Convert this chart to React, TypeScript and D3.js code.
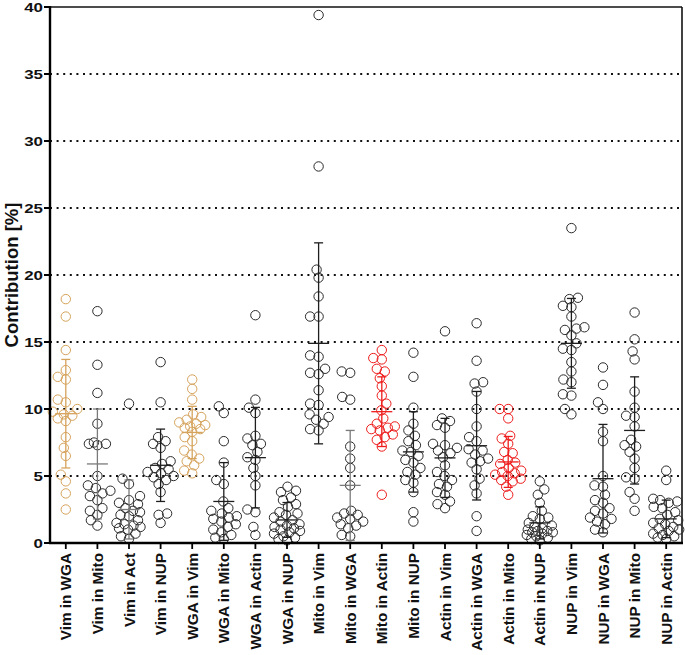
import React from "react";
import * as d3 from "d3";

const categories = [
  "Vim in WGA", "Vim in Mito", "Vim in Act", "Vim in NUP", "WGA in Vim",
  "WGA in Mito", "WGA in Actin", "WGA in NUP", "Mito in Vim", "Mito in WGA",
  "Mito in Actin", "Mito in NUP", "Actin in Vim", "Actin in WGA", "Actin in Mito",
  "Actin in NUP", "NUP in Vim", "NUP in WGA", "NUP in Mito", "NUP in Actin",
];

const vimInWGA = [18.2, 16.9, 14.4, 12.9, 12.4, 12.2, 10.7, 10.5, 10.0, 9.8, 9.6, 9.5, 9.3, 9.1, 7.9, 7.1, 6.5, 5.1, 4.6, 3.7, 2.5];
const vimInMito = [17.3, 13.3, 11.2, 8.9, 7.5, 7.4, 7.4, 7.3, 5.0, 4.3, 4.1, 3.9, 3.7, 3.5, 3.2, 2.6, 2.4, 2.1, 1.7, 1.3];
const vimInAct = [10.4, 4.8, 4.4, 3.5, 3.2, 3.0, 2.9, 2.6, 2.4, 2.3, 2.1, 2.0, 1.7, 1.5, 1.4, 1.3, 1.2, 1.1, 1.0, 0.7, 0.5, 0.3];
const vimInNUP = [13.5, 10.5, 7.9, 7.6, 7.4, 7.1, 6.1, 5.9, 5.6, 5.5, 5.3, 5.2, 5.0, 4.9, 4.7, 4.4, 3.8, 2.2, 2.1, 1.5];
const wgaInVim = [12.2, 11.5, 10.7, 9.6, 9.4, 9.2, 9.0, 8.9, 8.8, 8.7, 8.6, 8.5, 8.3, 7.9, 7.6, 6.9, 6.6, 6.3, 6.1, 5.8, 5.4, 5.2];
const wgaInMito = [10.2, 9.7, 7.6, 6.0, 4.7, 4.4, 3.1, 2.6, 2.4, 2.2, 2.0, 1.9, 1.8, 1.6, 1.4, 1.2, 1.0, 0.8, 0.6, 0.4, 0.3];
const wgaInActin = [17.0, 10.7, 10.1, 9.7, 8.0, 7.8, 7.4, 7.3, 6.8, 6.4, 6.2, 5.6, 5.0, 4.3, 2.5, 2.3, 1.2, 0.6];
const wgaInNUP = [4.2, 3.9, 3.8, 3.4, 3.2, 2.9, 2.7, 2.3, 2.2, 2.1, 1.9, 1.7, 1.6, 1.4, 1.3, 1.2, 1.1, 1.0, 0.9, 0.8, 0.7, 0.5, 0.4, 0.3, 0.2];
const mitoInVim = [39.4, 28.1, 20.4, 19.8, 18.4, 16.9, 16.9, 14.0, 13.9, 13.0, 12.7, 12.6, 11.4, 10.4, 10.3, 9.6, 9.4, 9.2, 8.9, 8.5, 8.4];
const mitoInWGA = [12.8, 12.7, 10.9, 10.7, 7.2, 6.3, 5.6, 4.3, 2.4, 2.2, 2.1, 1.9, 1.8, 1.6, 1.4, 1.3, 1.1, 0.6, 0.5];
const mitoInActin = [14.4, 13.8, 13.7, 13.0, 12.8, 12.3, 11.7, 11.0, 10.4, 9.9, 9.3, 8.9, 8.7, 8.6, 8.5, 8.4, 8.1, 7.9, 7.7, 7.2, 3.6];
const mitoInNUP = [14.2, 12.4, 10.1, 8.9, 8.4, 8.0, 7.6, 7.3, 6.9, 6.8, 6.5, 6.2, 6.0, 5.6, 5.3, 5.1, 4.7, 4.5, 3.8, 2.3, 1.6];
const actinInVim = [15.8, 9.3, 9.1, 8.8, 8.6, 7.4, 7.3, 7.1, 6.9, 6.7, 6.4, 5.8, 5.3, 5.0, 4.7, 4.4, 4.2, 3.8, 3.6, 3.1, 2.9, 2.6];
const actinInWGA = [16.4, 13.6, 12.0, 11.9, 11.3, 10.0, 8.7, 7.9, 7.6, 7.0, 6.9, 6.6, 6.3, 6.1, 6.0, 5.5, 4.8, 4.3, 3.7, 2.0, 0.9];
const actinInMito = [10.0, 10.0, 9.3, 8.0, 7.8, 7.4, 6.8, 6.7, 6.2, 6.0, 5.9, 5.6, 5.4, 5.3, 5.2, 5.1, 5.0, 4.8, 4.7, 4.6, 4.2, 3.6];
const actinInNUP = [4.6, 4.0, 3.6, 3.0, 2.4, 2.0, 1.9, 1.8, 1.5, 1.3, 1.2, 1.1, 1.0, 0.9, 0.9, 0.8, 0.8, 0.7, 0.6, 0.5, 0.4, 0.3, 0.2];
const nupInVim = [23.5, 18.3, 18.2, 17.7, 17.6, 16.9, 16.1, 16.0, 15.9, 15.5, 14.9, 14.5, 14.4, 13.5, 12.8, 12.2, 12.0, 11.1, 11.0, 10.0, 9.6];
const nupInWGA = [13.1, 11.8, 10.5, 10.0, 8.3, 7.6, 5.0, 4.3, 4.2, 3.6, 3.2, 3.0, 2.6, 2.4, 2.2, 1.9, 1.8, 1.6, 1.4, 1.0, 0.8];
const nupInMito = [17.2, 15.2, 14.3, 13.7, 11.3, 10.1, 9.5, 9.4, 8.7, 7.7, 7.3, 7.2, 6.8, 6.3, 5.6, 4.9, 4.8, 3.8, 3.3, 2.4];
const nupInActin = [5.4, 4.7, 3.3, 3.2, 3.1, 3.0, 2.7, 2.6, 2.3, 2.1, 1.8, 1.7, 1.5, 1.4, 1.2, 1.1, 1.0, 0.9, 0.7, 0.6, 0.5, 0.4, 0.3];

const groupValues = [
  vimInWGA, vimInMito, vimInAct, vimInNUP, wgaInVim, wgaInMito, wgaInActin, wgaInNUP,
  mitoInVim, mitoInWGA, mitoInActin, mitoInNUP, actinInVim, actinInWGA, actinInMito,
  actinInNUP, nupInVim, nupInWGA, nupInMito, nupInActin,
];

const means = [9.65, 5.9, 2.5, 5.8, 8.25, 3.1, 6.37, 1.72, 14.9, 4.3, 9.8, 6.8, 6.35, 7.26, 6.05, 1.5, 14.9, 4.8, 8.4, 1.8];
const sds = [4.05, 4.1, 2.2, 2.7, 1.95, 2.9, 3.75, 1.3, 7.5, 4.1, 2.6, 3.0, 2.95, 4.05, 1.9, 1.2, 3.35, 4.05, 4.0, 1.4];

const yTicks = [0, 5, 10, 15, 20, 25, 30, 35, 40];
const gridTicks = [5, 10, 15, 20, 25, 30, 35];

const ORANGE = "#d6a35c";
const RED = "#ee1c1c";
const BLACK = "#2b2b2b";
const pointColors = categories.map((c) =>
  c === "Vim in WGA" || c === "WGA in Vim" ? ORANGE : c === "Mito in Actin" || c === "Actin in Mito" ? RED : BLACK
);
const barColors = categories.map((c, i) =>
  pointColors[i] !== BLACK ? pointColors[i] : c === "Vim in Mito" || c === "Vim in Act" || c === "Mito in WGA" ? "#7a7a7a" : "#1e1e1e"
);

const W = 685;
const H = 655;
const left = 50;
const right = 682;
const top = 7;
const bottom = 543;
const R = 4.7;
const FONT = "'Liberation Sans', Arial, Helvetica, sans-serif";

// deterministic beeswarm with limited width (Prism-like scatter)
function beeswarm(ys: number[], minDist: number, maxOff: number): number[] {
  const order = d3.range(ys.length).sort((a, b) => ys[b] - ys[a]);
  const xs = new Array(ys.length).fill(0);
  const placed: number[] = [];
  const cands = d3.range(-maxOff, maxOff + 0.01, 0.5).sort((a, b) => Math.abs(a) - Math.abs(b) || a - b);
  for (const i of order) {
    let chosen: number | null = null;
    let bestScore = -1;
    let bestC = 0;
    for (const c of cands) {
      let md = Infinity;
      for (const j of placed) {
        const d = Math.hypot(c - xs[j], ys[i] - ys[j]);
        if (d < md) md = d;
      }
      if (md >= minDist) {
        chosen = c;
        break;
      }
      if (md > bestScore + 0.3) {
        bestScore = md;
        bestC = c;
      }
    }
    xs[i] = chosen === null ? bestC : chosen;
    placed.push(i);
  }
  return xs;
}

export default function App() {
  const x = d3.scaleBand<string>().domain(categories).range([left, right]).padding(0);
  const y = d3.scaleLinear().domain([0, 40]).range([bottom, top]);
  const bw = x.bandwidth();

  return (
    <svg width={W} height={H} style={{ position: "absolute", left: 0, top: 0, background: "#fff" }} fontFamily={FONT}>
      {gridTicks.map((t) => (
        <line key={"g" + t} x1={left} x2={right} y1={y(t)} y2={y(t)} stroke="#111" strokeWidth={2} strokeDasharray="2 4.6" />
      ))}
      <line x1={left} x2={right} y1={top} y2={top} stroke="#111" strokeWidth={1.6} />
      <line x1={right} x2={right} y1={top} y2={bottom} stroke="#111" strokeWidth={1.6} />

      {groupValues.map((vals, gi) => {
        const cx = (x(categories[gi]) as number) + bw / 2;
        const ys = vals.map((v) => y(v));
        const offs = beeswarm(ys, R * 1.75, 13);
        return (
          <g key={"p" + gi}>
            {vals.map((v, k) => (
              <circle key={k} cx={cx + offs[k]} cy={ys[k]} r={R} fill="none" stroke={pointColors[gi]} strokeWidth={1} />
            ))}
          </g>
        );
      })}

      {categories.map((c, gi) => {
        const cx = (x(c) as number) + bw / 2;
        const m = means[gi];
        const s = sds[gi];
        const hi = y(m + s);
        const lo = y(Math.max(0, m - s));
        const col = barColors[gi];
        return (
          <g key={"e" + gi} stroke={col} strokeWidth={1.3}>
            <line x1={cx} x2={cx} y1={hi} y2={lo} />
            <line x1={cx - 10.5} x2={cx + 10.5} y1={y(m)} y2={y(m)} />
            <line x1={cx - 4.5} x2={cx + 4.5} y1={hi} y2={hi} />
            {m - s > 0 && <line x1={cx - 4.5} x2={cx + 4.5} y1={lo} y2={lo} />}
          </g>
        );
      })}

      <line x1={left} x2={left} y1={top - 1} y2={bottom + 1} stroke="#000" strokeWidth={2.4} />
      <line x1={left - 1} x2={right + 1} y1={bottom} y2={bottom} stroke="#000" strokeWidth={2.4} />
      {yTicks.map((t) => (
        <g key={"yt" + t}>
          <line x1={left - 6} x2={left} y1={y(t)} y2={y(t)} stroke="#000" strokeWidth={2} />
          <text
            transform={`translate(${left - 7},${y(t)}) scale(1.25,1)`}
            dy="0.36em"
            textAnchor="end"
            fontSize={13.5}
            fontWeight="bold"
            fill="#111"
          >
            {t}
          </text>
        </g>
      ))}
      {categories.map((c) => {
        const cx = (x(c) as number) + bw / 2;
        return (
          <g key={"xt" + c}>
            <line x1={cx} x2={cx} y1={bottom} y2={bottom + 6} stroke="#000" strokeWidth={1.8} />
            <text
              transform={`translate(${cx},${bottom + 10}) rotate(-90)`}
              dy="0.36em"
              textAnchor="end"
              fontSize={15.3}
              fontWeight="bold"
              fill="#111"
            >
              {c}
            </text>
          </g>
        );
      })}
      <text
        transform={`translate(11,${(top + bottom) / 2}) rotate(-90)`}
        dy="0.36em"
        textAnchor="middle"
        fontSize={18.5}
        fontWeight="bold"
        fill="#111"
      >
        Contribution [%]
      </text>
    </svg>
  );
}
